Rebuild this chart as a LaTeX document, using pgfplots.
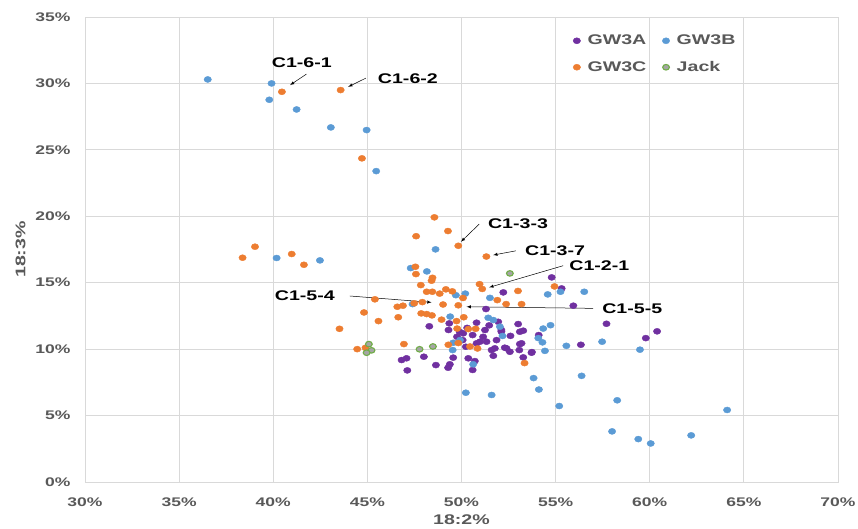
\documentclass[border=0pt]{standalone}
\usepackage{pgfplots}
\pgfplotsset{compat=1.18}
\usepackage{fontspec}
\setmainfont{Liberation Sans}[FakeStretch=1.4]
\definecolor{cA}{HTML}{7030A0}
\definecolor{cB}{HTML}{5B9BD5}
\definecolor{cC}{HTML}{ED7D31}
\definecolor{cJ}{HTML}{70AD47}
\definecolor{cJf}{HTML}{A5A5A5}
\definecolor{gridc}{HTML}{D9D9D9}
\definecolor{txt}{HTML}{595959}
\begin{document}
\begin{tikzpicture}
\begin{axis}[
  name=ax,
  scale only axis,
  width=753pt, height=465pt,
  xmin=30, xmax=70, ymin=0, ymax=35,
  xtick={30,35,...,70}, ytick={0,5,...,35},
  xticklabels={30\%,35\%,40\%,45\%,50\%,55\%,60\%,65\%,70\%},
  yticklabels={0\%,5\%,10\%,15\%,20\%,25\%,30\%,35\%},
  major tick length=0pt,
  grid=major,
  grid style={gridc, line width=0.9pt},
  axis line style={gridc, line width=0.9pt},
  tick label style={font=\fontsize{12.5}{14}\selectfont\bfseries, text=txt},
  xticklabel style={yshift=-12pt},
  yticklabel style={xshift=-11pt},
  xlabel={18:2\%}, ylabel={18:3\%},
  label style={font=\fontsize{14}{16}\selectfont\bfseries, text=txt},
  xlabel style={yshift=-1pt},
  ylabel style={yshift=3pt},
  legend columns=2,
  legend style={at={(0.644,0.97)}, anchor=north west, draw=none, fill=none,
    font=\fontsize{14}{16}\selectfont\bfseries, text=txt,
    /tikz/every odd column/.append style={column sep=5pt},
    /tikz/every even column/.append style={column sep=14pt},
    row sep=11pt},
  legend cell align=left,
  clip=false,
]
\addplot[only marks, mark=*, mark size=3.7pt, color=cA, mark options={yscale=0.82}] coordinates {
(54.79,15.40) (55.32,14.57) (52.22,14.27) (55.94,13.27) (51.30,13.02) (57.70,11.91)
(60.39,11.34) (59.79,10.83) (56.34,10.33) (53.28,11.39) (54.10,11.06) (53.19,10.44)
(53.74,9.78) (53.28,9.38) (52.57,9.80) (53.07,9.93) (52.30,10.11) (52.12,11.44)
(53.10,11.31) (51.95,12.06) (51.47,11.79) (50.80,11.99) (48.29,11.72) (49.35,11.94)
(49.31,11.44) (49.76,10.93) (50.09,11.19) (50.59,11.06) (51.15,10.93) (51.86,10.68)
(51.77,10.06) (50.80,10.44) (50.06,10.68) (50.98,10.56) (51.33,10.56) (51.25,11.44)
(52.39,10.06) (53.10,10.38) (53.72,9.73) (51.60,9.93) (51.69,9.50) (50.36,9.31)
(50.71,9.10) (49.56,9.36) (49.38,8.86) (49.29,8.60) (48.64,8.80) (48.00,9.43)
(47.08,9.31) (46.82,9.18) (47.12,8.40) (50.59,8.43) (50.23,10.18) (50.30,11.60)
(49.90,11.30) (52.12,11.31) (53.01,11.89) (52.60,11.00)
};
\addlegendentry{GW3A}
\addplot[only marks, mark=*, mark size=3.7pt, color=cB, mark options={yscale=0.82}] coordinates {
(36.52,30.30) (39.91,30.00) (39.79,28.77) (41.24,28.04) (43.06,26.69) (44.96,26.49)
(45.47,23.40) (40.18,16.86) (42.48,16.68) (48.62,17.51) (47.30,16.10) (48.16,15.85)
(47.40,13.39) (49.70,14.06) (50.20,14.18) (51.51,13.86) (49.40,12.45) (51.42,12.36)
(51.69,12.19) (52.04,11.69) (49.92,10.68) (49.56,10.48) (49.53,9.93) (50.62,8.86)
(50.23,6.72) (51.60,6.55) (54.58,14.12) (55.26,14.32) (56.52,14.32) (54.73,11.80)
(54.34,11.55) (54.08,10.83) (54.30,10.51) (54.43,9.87) (55.57,10.25) (57.47,10.56)
(59.48,9.96) (53.83,7.82) (54.11,6.96) (56.38,7.99) (55.19,5.72) (58.27,6.15)
(58.00,3.81) (59.39,3.23) (60.05,2.90) (62.20,3.51) (64.11,5.42) (52.18,10.99)
};
\addlegendentry{GW3B}
\addplot[only marks, mark=*, mark size=3.7pt, color=cC, mark options={yscale=0.82}] coordinates {
(40.46,29.37) (43.58,29.50) (44.71,24.36) (38.37,16.88) (39.03,17.71) (40.98,17.16)
(41.63,16.35) (48.56,19.92) (49.28,18.89) (47.59,18.50) (49.83,17.78) (51.32,16.97)
(47.55,16.20) (47.58,15.65) (48.46,15.37) (48.41,15.15) (47.84,14.82) (48.15,14.32)
(48.45,14.32) (49.17,14.50) (49.51,14.35) (48.84,14.18) (50.96,14.89) (51.10,14.53)
(50.08,13.85) (51.90,13.69) (52.37,13.39) (53.19,13.39) (53.00,14.38) (54.94,14.72)
(49.02,13.36) (49.83,13.30) (46.59,13.19) (46.89,13.27) (47.49,13.45) (47.92,13.54)
(45.40,13.75) (44.82,12.76) (46.64,12.40) (45.59,12.11) (47.86,12.69) (48.15,12.64)
(48.43,12.54) (48.94,12.22) (49.74,12.11) (50.12,12.40) (43.52,11.53) (49.77,11.55)
(50.36,11.51) (50.75,11.53) (46.94,10.38) (44.46,10.00) (44.90,10.10) (49.30,10.33)
(49.83,10.46) (50.45,10.20) (50.85,10.05) (53.35,8.95)
};
\addlegendentry{GW3C}
\addplot[only marks, mark=*, mark size=3.4pt, draw=cJ, fill=cJf, mark options={yscale=0.82, line width=1.1pt}] coordinates {
(45.08,10.38) (45.22,9.91) (44.96,9.73) (47.77,9.99) (48.48,10.20) (52.57,15.70)
};
\addlegendentry{Jack}
% annotations
\begin{scope}[every node/.style={font=\fontsize{14}{16}\selectfont\bfseries, text=black, inner sep=0pt}]
\draw[-latex, line width=0.5pt] (axis cs:41.76,30.70) -- (axis cs:40.89,29.87);
\node at (axis cs:41.52,31.55) {C1-6-1};
\draw[-latex, line width=0.5pt] (axis cs:44.92,30.40) -- (axis cs:43.98,29.74);
\node[anchor=west] at (axis cs:45.55,30.35) {C1-6-2};
\draw[-latex, line width=0.5pt] (axis cs:50.94,19.41) -- (axis cs:49.97,18.08);
\node[anchor=west] at (axis cs:51.40,19.41) {C1-3-3};
\draw[-latex, line width=0.5pt] (axis cs:52.89,17.40) -- (axis cs:51.68,17.08);
\node[anchor=west] at (axis cs:53.37,17.40) {C1-3-7};
\draw[-latex, line width=0.5pt] (axis cs:55.40,16.28) -- (axis cs:51.47,14.65);
\node[anchor=west] at (axis cs:55.72,16.28) {C1-2-1};
\draw[-latex, line width=0.5pt] (axis cs:44.07,14.00) -- (axis cs:48.41,13.52);
\node[anchor=east] at (axis cs:43.28,14.00) {C1-5-4};
\draw[-latex, line width=0.5pt] (axis cs:56.99,13.07) -- (axis cs:50.27,13.19);
\node[anchor=west] at (axis cs:57.47,13.07) {C1-5-5};
\end{scope}
\end{axis}
\pgfresetboundingbox
\path[use as bounding box] ([xshift=-85pt,yshift=-47pt]ax.south west) rectangle ([xshift=20pt,yshift=17pt]ax.north east);
\end{tikzpicture}
\end{document}
